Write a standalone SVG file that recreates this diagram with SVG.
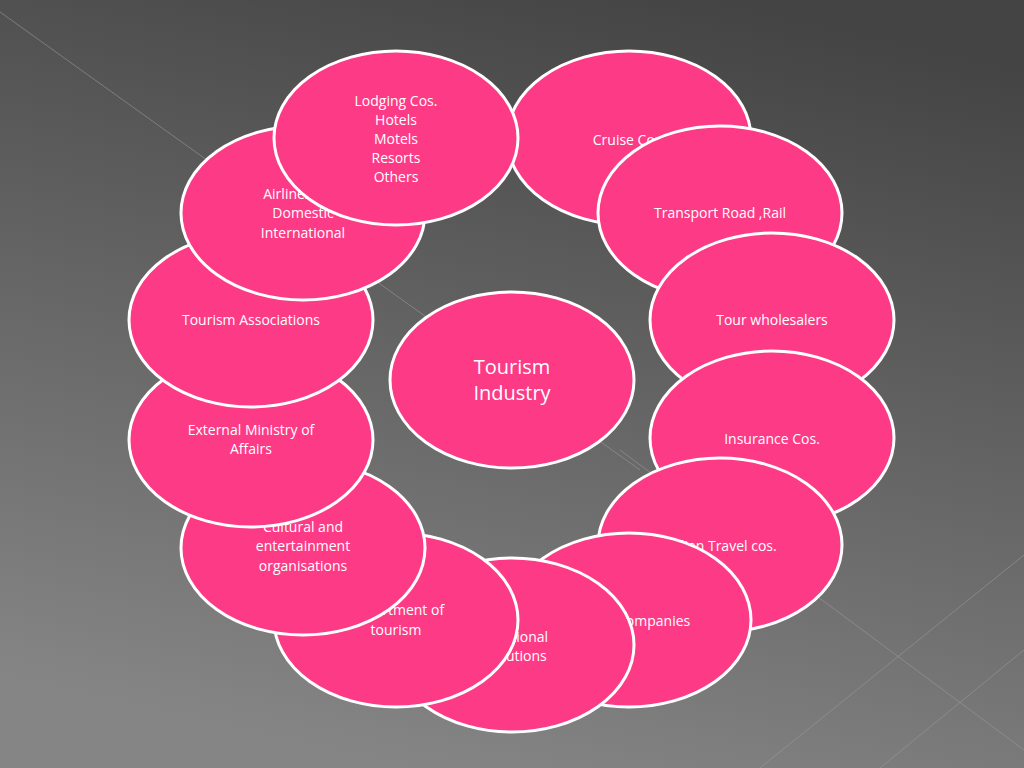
<svg xmlns="http://www.w3.org/2000/svg" width="1024" height="768" viewBox="0 0 1024 768">
<defs>
<linearGradient id="bg" x1="0.7" y1="0" x2="0.4" y2="1">
<stop offset="0" stop-color="#444"/><stop offset="1" stop-color="#858585"/>
</linearGradient>
</defs>
<style>
.e{fill:#fd3a86;stroke:#fff;stroke-width:3}
text{font-family:"Open Sans","DejaVu Sans",sans-serif;font-size:14px;fill:#fff;text-anchor:middle}
.big{font-size:20px}
.ln{stroke:#999;stroke-width:1;fill:none;opacity:0.6}
</style>
<rect width="1024" height="768" fill="url(#bg)"/>
<path class="ln" d="M0 12 L640 470 M1024 555 L760 768 M1024 650 L880 768 M620 450 L1024 750"/>
<g id="cruise"><ellipse class="e" cx="629" cy="138" rx="122" ry="87"/><text x="629" y="145">Cruise Cos.</text></g>
<g id="transport"><ellipse class="e" cx="720" cy="213" rx="122" ry="87"/><text x="720" y="218">Transport Road ,Rail</text></g>
<g id="tour"><ellipse class="e" cx="772" cy="320" rx="122" ry="87"/><text x="772" y="325">Tour wholesalers</text></g>
<g id="insurance"><ellipse class="e" cx="772" cy="438" rx="122" ry="87"/><text x="772" y="444">Insurance Cos.</text></g>
<g id="indian"><ellipse class="e" cx="720" cy="545" rx="122" ry="87"/><text x="720" y="551">Indian Travel cos.</text></g>
<g id="companies"><ellipse class="e" cx="629" cy="620" rx="122" ry="87"/><text x="632" y="626">Travel Companies</text></g>
<g id="edu"><ellipse class="e" cx="512" cy="645" rx="122" ry="87"/><text x="510" y="642">Educational</text><text x="510" y="661">Institutions</text></g>
<g id="dept"><ellipse class="e" cx="396" cy="620" rx="122" ry="87"/><text x="396" y="615">Department of</text><text x="396" y="635">tourism</text></g>
<g id="cultural"><ellipse class="e" cx="303" cy="548" rx="122" ry="87"/><text x="303" y="532">Cultural and</text><text x="303" y="551">entertainment</text><text x="303" y="571">organisations</text></g>
<g id="external"><ellipse class="e" cx="251" cy="440" rx="122" ry="87"/><text x="251" y="435">External Ministry of</text><text x="251" y="454">Affairs</text></g>
<g id="assoc"><ellipse class="e" cx="251" cy="320" rx="122" ry="87"/><text x="251" y="325">Tourism Associations</text></g>
<g id="airline"><ellipse class="e" cx="303" cy="213" rx="122" ry="87"/><text x="303" y="199">Airlines Cos.</text><text x="303" y="218">Domestic</text><text x="303" y="238">International</text></g>
<g id="lodging"><ellipse class="e" cx="396" cy="138" rx="122" ry="87"/><text x="396" y="106">Lodging Cos.</text><text x="396" y="125">Hotels</text><text x="396" y="144">Motels</text><text x="396" y="163">Resorts</text><text x="396" y="182">Others</text></g>
<g id="center"><ellipse class="e" cx="512" cy="380" rx="122" ry="88"/><text class="big" x="512" y="374">Tourism</text><text class="big" x="512" y="400">Industry</text></g>
</svg>
